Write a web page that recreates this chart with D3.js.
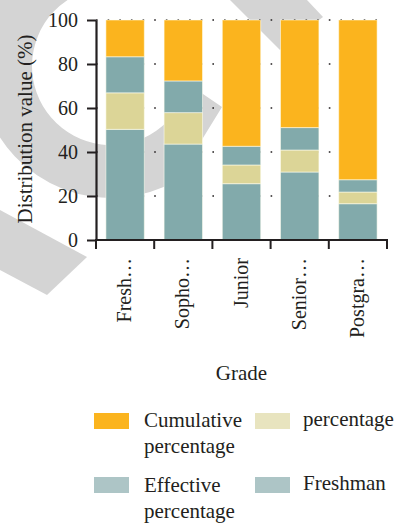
<!DOCTYPE html>
<html>
<head>
<meta charset="utf-8">
<script src="https://cdn.jsdelivr.net/npm/d3@7"></script>
<style>
  html, body { margin: 0; padding: 0; background: #fff; }
  svg { display: block; }
  text { font-family: "Liberation Serif", "DejaVu Serif", serif; fill: #231f20; }
</style>
</head>
<body>
<svg id="chart" width="399" height="524"></svg>
<script>
// Grade categories (labels as printed on the axis)
const grades = ["Fresh\u2026", "Sopho\u2026", "Junior", "Senior\u2026", "Postgra\u2026"];

// Stacked segment values (%), bottom to top
const freshman   = [50.3, 43.6, 25.6, 30.9, 16.5];
const percentage = [16.6, 14.3,  8.5, 10.0,  5.3];
const effective  = [16.4, 14.4,  8.5, 10.2,  5.6];
const cumulative = [16.7, 27.7, 57.4, 48.9, 72.6];

const yTicks = [0, 20, 40, 60, 80, 100];

// Series in stacking order with bar / legend colours
const seriesKeys   = ["Freshman", "percentage", "Effective percentage", "Cumulative percentage"];
const barColors    = ["#82aaab", "#dcd597", "#82aaab", "#fbb41e"];
const legendColors = ["#adc5c6", "#e8e4bf", "#adc5c6", "#fbb41e"];

const rows = grades.map((g, i) => ({
  grade: g,
  "Freshman": freshman[i],
  "percentage": percentage[i],
  "Effective percentage": effective[i],
  "Cumulative percentage": cumulative[i]
}));

const svg = d3.select("#chart");

// ---- background mark (light grey emblem behind the plot) ----
const bg = svg.append("g").attr("fill", "#d4d4d4");
{
  const cx = 111, cy = 66, rIn = 79, rOut = 132;
  const deg = Math.PI / 180;
  const pt = (r, a) => [cx + r * Math.cos(a * deg), cy + r * Math.sin(a * deg)];
  const p = d3.path();
  const o0 = pt(rOut, 60);
  p.moveTo(o0[0], o0[1]);
  p.arc(cx, cy, rOut, 60 * deg, 265 * deg);
  const i1 = pt(rIn, 265);
  p.lineTo(i1[0], i1[1]);
  p.arc(cx, cy, rIn, 265 * deg, 13 * deg, true);
  p.lineTo(222, 107);
  p.closePath();
  bg.append("path").attr("d", p.toString());
  bg.append("path").attr("d", d3.line()([[0, 210], [87, 257], [47, 295], [0, 270]]) + "Z");
  bg.append("path").attr("d", d3.line()([[230, 0], [307, 0], [323, 17], [280, 50]]) + "Z");
}

// ---- scales ----
const plot = { left: 96, right: 387, top: 20, bottom: 240 };

const x = d3.scaleBand()
  .domain(grades)
  .range([plot.left, plot.right])
  .paddingInner(0.34)
  .paddingOuter(0.17);

const y = d3.scaleLinear()
  .domain([0, 100])
  .range([plot.bottom, plot.top]);

const stack = d3.stack().keys(seriesKeys);
const stacked = stack(rows);

// ---- dotted horizontal grid ----
svg.append("g")
  .selectAll("line")
  .data(yTicks.filter(d => d > 0))
  .join("line")
  .attr("x1", plot.left)
  .attr("x2", plot.right)
  .attr("y1", d => y(d))
  .attr("y2", d => y(d))
  .attr("stroke", "#231f20")
  .attr("stroke-width", 1.6)
  .attr("stroke-dasharray", "1.6,10.04");

// ---- stacked bars ----
svg.append("g")
  .selectAll("g")
  .data(stacked)
  .join("g")
  .attr("fill", (d, i) => barColors[i])
  .selectAll("rect")
  .data(d => d)
  .join("rect")
  .attr("x", d => x(d.data.grade))
  .attr("width", x.bandwidth())
  .attr("y", d => y(d[1]))
  .attr("height", d => y(d[0]) - y(d[1]))
  .attr("stroke", "rgba(255,255,240,0.55)")
  .attr("stroke-width", 1);

// ---- y axis ----
const yAxis = svg.append("g")
  .attr("transform", `translate(${plot.left},0)`)
  .call(d3.axisLeft(y).tickValues(yTicks).tickSize(9).tickSizeOuter(0).tickPadding(9));
yAxis.select(".domain").attr("stroke", "#231f20").attr("stroke-width", 2.2);
yAxis.selectAll(".tick line").attr("stroke", "#231f20").attr("stroke-width", 2);
yAxis.selectAll(".tick text")
  .attr("font-family", "Liberation Serif, serif")
  .attr("font-size", 20)
  .attr("fill", "#231f20");

// ---- x axis: ticks at category boundaries ----
const nCat = grades.length;
const bounds = d3.range(nCat + 1).map(i => plot.left + i * (plot.right - plot.left) / nCat);
const xAxis = svg.append("g");
xAxis.append("line")
  .attr("x1", plot.left - 1)
  .attr("x2", plot.right + 1)
  .attr("y1", plot.bottom)
  .attr("y2", plot.bottom)
  .attr("stroke", "#231f20")
  .attr("stroke-width", 2.2);
xAxis.selectAll("line.tk")
  .data(bounds)
  .join("line")
  .attr("class", "tk")
  .attr("x1", d => d)
  .attr("x2", d => d)
  .attr("y1", plot.bottom)
  .attr("y2", plot.bottom + 9)
  .attr("stroke", "#231f20")
  .attr("stroke-width", 2);

xAxis.selectAll("text")
  .data(grades)
  .join("text")
  .attr("transform", d => `translate(${x(d) + x.bandwidth() / 2 + 6},${plot.bottom + 18}) rotate(-90)`)
  .attr("text-anchor", "end")
  .attr("font-size", 20)
  .text(d => d);

// ---- axis titles ----
svg.append("text")
  .attr("transform", `translate(32,${(plot.top + plot.bottom) / 2 - 1}) rotate(-90)`)
  .attr("text-anchor", "middle")
  .attr("font-size", 21)
  .text("Distribution value (%)");

svg.append("text")
  .attr("x", (plot.left + plot.right) / 2)
  .attr("y", 380)
  .attr("text-anchor", "middle")
  .attr("font-size", 21)
  .text("Grade");

// ---- legend ----
const legendItems = [
  { key: "Cumulative percentage", lines: ["Cumulative", "percentage"], sx: 94, sy: 413, tx: 144, ty: 427 },
  { key: "percentage", lines: ["percentage"], sx: 255, sy: 413, tx: 303, ty: 426 },
  { key: "Effective percentage", lines: ["Effective", "percentage"], sx: 94, sy: 477, tx: 144, ty: 492 },
  { key: "Freshman", lines: ["Freshman"], sx: 255, sy: 477, tx: 303, ty: 490 }
];

const legend = svg.append("g");
legendItems.forEach(item => {
  const idx = seriesKeys.indexOf(item.key);
  legend.append("rect")
    .attr("x", item.sx)
    .attr("y", item.sy)
    .attr("width", 35)
    .attr("height", 16)
    .attr("fill", legendColors[idx]);
  const t = legend.append("text")
    .attr("x", item.tx)
    .attr("y", item.ty)
    .attr("font-size", 21);
  item.lines.forEach((ln, j) => {
    t.append("tspan")
      .attr("x", item.tx)
      .attr("dy", j === 0 ? 0 : 26)
      .text(ln);
  });
});
</script>
</body>
</html>
